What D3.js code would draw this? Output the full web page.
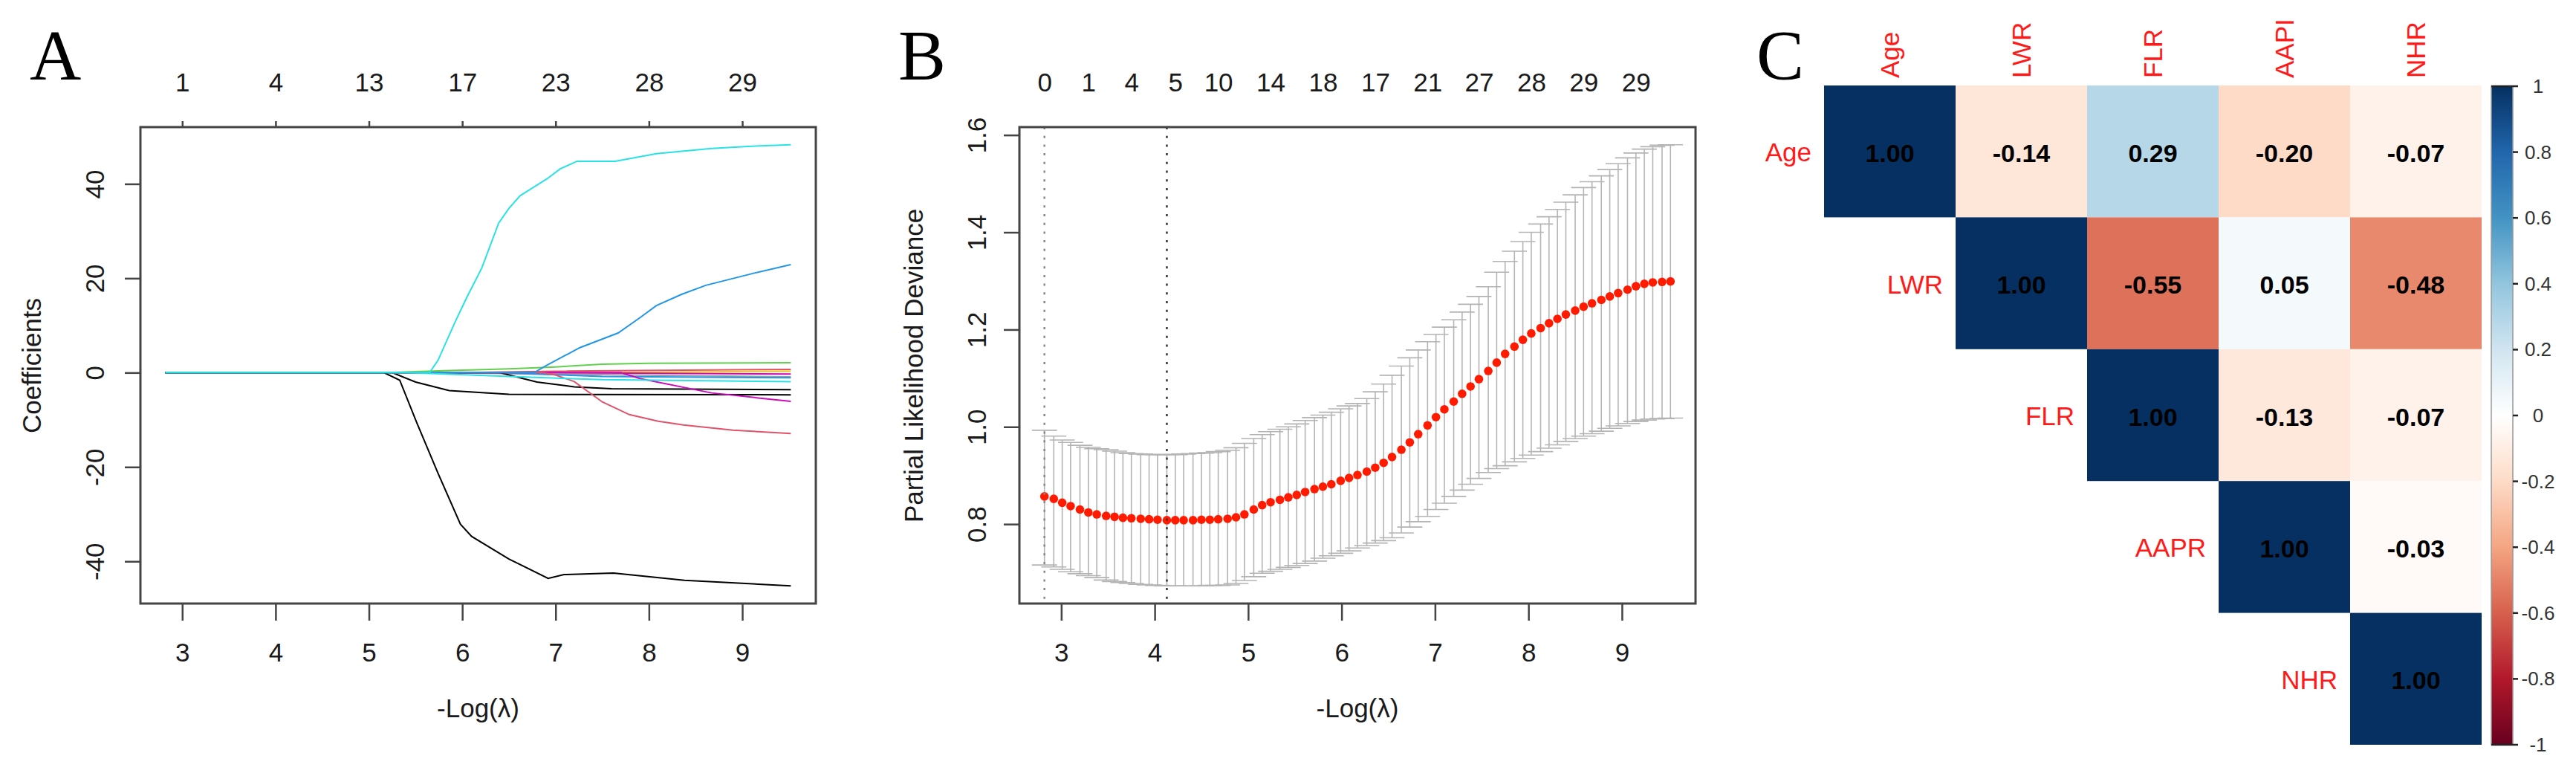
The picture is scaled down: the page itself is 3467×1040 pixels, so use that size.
<!DOCTYPE html>
<html lang="en">
<head>
  <meta charset="UTF-8">
  <title>LASSO Cox and correlation</title>
  <script src="https://d3js.org/d3.v7.min.js"></script>
  <style>
    body, html { margin: 0; padding: 0; background: #fff; }
    svg { display: block; }
    text { font-family: "Liberation Sans", Arial, sans-serif; }
  </style>
</head>
<body>
  <svg id="fig" width="3467" height="1040"></svg>

  <script>
    // ---- panel A: coefficient paths (x = -log(lambda), y = coefficient) ----
    const coefTicks = [3, 4, 5, 6, 7, 8, 9];
    const coefTopLabels = ["1", "4", "13", "17", "23", "28", "29"];
    const coefYTicks = [-40, -20, 0, 20, 40];

    const pathGray     = [[2.82, 0], [5.5, 0], [7.0, -0.3], [9.52, -0.9]];
    const pathYellow   = [[2.82, 0], [7.5, 0], [9.52, 0.3]];
    const pathMagenta2 = [[2.82, 0], [7.0, 0], [9.52, -0.3]];
    const pathRed2     = [[2.82, 0], [6.0, 0], [7.0, 0.3], [9.52, 0.7]];
    const pathBlue2    = [[2.82, 0], [6.3, 0], [7.5, -0.8], [9.52, -1.1]];
    const pathGreen    = [[2.82, 0], [5.2, 0], [5.8, 0.4], [6.5, 0.8], [7.0, 1.2], [7.5, 1.8], [8.0, 2.0], [9.52, 2.1]];
    const pathBlack3   = [[2.82, 0], [6.4, 0], [6.8, -2.0], [7.2, -3.0], [7.6, -3.4], [9.52, -3.6]];
    const pathBlack2   = [[2.82, 0], [5.25, 0], [5.5, -2.0], [5.86, -3.8], [6.5, -4.6], [9.52, -4.7]];
    const pathMagenta  = [[2.82, 0], [7.7, 0], [7.91, -1.3], [8.67, -4.3], [9.52, -6.1]];
    const pathPink     = [[2.82, 0], [6.85, 0], [7.0, -0.5], [7.2, -1.9], [7.5, -6.2], [7.79, -8.9], [8.1, -10.3], [8.37, -11.1], [8.9, -12.2], [9.52, -12.9]];
    const pathBlue     = [[2.82, 0], [6.77, 0], [6.91, 1.6], [7.26, 5.3], [7.67, 8.4], [7.9, 11.6], [8.08, 14.2], [8.35, 16.6], [8.61, 18.5], [9.13, 21.1], [9.52, 22.9]];
    const pathBlack1   = [[2.82, 0], [5.16, 0], [5.33, -1.6], [5.51, -10.5], [5.74, -21.3], [5.98, -32.1], [6.10, -34.7], [6.5, -39.5], [6.92, -43.6], [7.09, -42.8], [7.62, -42.5], [8.38, -44.0], [9.52, -45.2]];
    const pathCyan2    = [[2.82, 0], [5.4, 0], [6.5, -0.8], [7.5, -1.5], [9.52, -1.9]];
    const pathCyan     = [[2.82, 0], [5.65, 0], [5.74, 2.6], [5.92, 10.6], [6.05, 16.0], [6.21, 22.2], [6.39, 31.7], [6.5, 34.8], [6.62, 37.5], [6.91, 41.1], [7.05, 43.2], [7.23, 44.8], [7.64, 44.8], [8.08, 46.4], [8.67, 47.5], [9.1, 48.0], [9.52, 48.3]];

    const coefPaths = [pathGray, pathYellow, pathMagenta2, pathRed2, pathBlue2, pathGreen, pathBlack3,
                       pathBlack2, pathMagenta, pathPink, pathBlue, pathBlack1, pathCyan2, pathCyan];
    const coefColors = ["#9E9E9E", "#F5C710", "#CD0BBC", "#DF536B", "#2297E6", "#61D04F", "#000000",
                        "#000000", "#CD0BBC", "#DF536B", "#2297E6", "#000000", "#28E2E5", "#28E2E5"];

    // ---- panel B: cross-validation curve ----
    const cvLogLambda = [2.82, 2.92, 3.01, 3.10, 3.20, 3.29, 3.38, 3.48, 3.57, 3.66,
                         3.75, 3.85, 3.94, 4.03, 4.13, 4.22, 4.31, 4.41, 4.50, 4.59,
                         4.68, 4.78, 4.87, 4.96, 5.06, 5.15, 5.24, 5.34, 5.43, 5.52,
                         5.61, 5.71, 5.80, 5.89, 5.99, 6.08, 6.17, 6.27, 6.36, 6.45,
                         6.54, 6.64, 6.73, 6.82, 6.92, 7.01, 7.10, 7.20, 7.29, 7.38,
                         7.47, 7.57, 7.66, 7.75, 7.85, 7.94, 8.03, 8.13, 8.22, 8.31,
                         8.40, 8.50, 8.59, 8.68, 8.78, 8.87, 8.96, 9.06, 9.15, 9.24,
                         9.33, 9.43, 9.52];
    const cvMean = [0.857, 0.852, 0.844, 0.837, 0.830, 0.824, 0.820, 0.817, 0.815, 0.813,
                    0.812, 0.811, 0.810, 0.809, 0.808, 0.808, 0.808, 0.808, 0.809, 0.809,
                    0.810, 0.811, 0.814, 0.820, 0.830, 0.839, 0.845, 0.850, 0.855, 0.860,
                    0.866, 0.872, 0.877, 0.882, 0.889, 0.895, 0.901, 0.908, 0.916, 0.926,
                    0.938, 0.953, 0.968, 0.985, 1.003, 1.020, 1.036, 1.052, 1.068, 1.083,
                    1.098, 1.115, 1.132, 1.150, 1.165, 1.179, 1.192, 1.203, 1.213, 1.222,
                    1.231, 1.239, 1.247, 1.254, 1.261, 1.268, 1.275, 1.282, 1.289, 1.294,
                    1.297, 1.298, 1.299];
    const cvUpper = [0.993, 0.981, 0.973, 0.968, 0.962, 0.958, 0.955, 0.953, 0.950, 0.947,
                     0.945, 0.944, 0.943, 0.943, 0.943, 0.943, 0.944, 0.945, 0.946, 0.947,
                     0.949, 0.952, 0.957, 0.966, 0.976, 0.984, 0.990, 0.995, 1.000, 1.006,
                     1.013, 1.019, 1.024, 1.030, 1.037, 1.043, 1.048, 1.058, 1.072, 1.088,
                     1.106, 1.125, 1.142, 1.158, 1.175, 1.190, 1.205, 1.220, 1.236, 1.252,
                     1.268, 1.288, 1.318, 1.340, 1.361, 1.381, 1.400, 1.417, 1.432, 1.447,
                     1.462, 1.477, 1.492, 1.504, 1.516, 1.529, 1.541, 1.553, 1.563, 1.571,
                     1.576, 1.579, 1.580];
    const cvLower = [0.716, 0.712, 0.707, 0.702, 0.698, 0.694, 0.690, 0.685, 0.682, 0.680,
                     0.678, 0.676, 0.675, 0.674, 0.673, 0.673, 0.673, 0.673, 0.673, 0.674,
                     0.674, 0.675, 0.678, 0.684, 0.692, 0.699, 0.703, 0.707, 0.711, 0.715,
                     0.719, 0.724, 0.730, 0.735, 0.740, 0.745, 0.751, 0.756, 0.761, 0.766,
                     0.772, 0.782, 0.794, 0.805, 0.816, 0.830, 0.843, 0.857, 0.870, 0.882,
                     0.894, 0.906, 0.914, 0.920, 0.928, 0.935, 0.942, 0.949, 0.956, 0.963,
                     0.970, 0.976, 0.981, 0.986, 0.991, 0.997, 1.002, 1.007, 1.011, 1.014,
                     1.016, 1.017, 1.018];
    const cvTopAt = [2.82, 3.29, 3.75, 4.22, 4.68, 5.24, 5.80, 6.36, 6.92, 7.47, 8.03, 8.59, 9.15];
    const cvTopLabels = ["0", "1", "4", "5", "10", "14", "18", "17", "21", "27", "28", "29", "29"];
    const cvXTicks = [3, 4, 5, 6, 7, 8, 9];
    const cvYTicks = [0.8, 1.0, 1.2, 1.4, 1.6];
    const cvLambda1se = 2.82;
    const cvLambdaMin = 4.13;

    // ---- panel C: correlation matrix (upper triangle) ----
    const corrRows = ["Age", "LWR", "FLR", "AAPR", "NHR"];
    const corrCols = ["Age", "LWR", "FLR", "AAPI", "NHR"];
    const corrMatrix = [
      [1.00, -0.14,  0.29, -0.20, -0.07],
      [null,  1.00, -0.55,  0.05, -0.48],
      [null,  null,  1.00, -0.13, -0.07],
      [null,  null,  null,  1.00, -0.03],
      [null,  null,  null,  null,  1.00]
    ];
    const legendTicks = [1, 0.8, 0.6, 0.4, 0.2, 0, -0.2, -0.4, -0.6, -0.8, -1];
    const rdbuColors = ["#67001F", "#B2182B", "#D6604D", "#F4A582", "#FDDBC7", "#FFFFFF",
                        "#D1E5F0", "#92C5DE", "#4393C3", "#2166AC", "#053061"];

    const svg = d3.select("#fig");
    svg.append("rect").attr("width", 3467).attr("height", 1040).attr("fill", "#fff");

    const AX = "#444";
    const FONT = "Liberation Sans, Arial, sans-serif";

    function padded(ext, f) {
      const p = (ext[1] - ext[0]) * f;
      return [ext[0] - p, ext[1] + p];
    }

    function styleAxis(g) {
      g.attr("font-size", 35).attr("font-family", FONT);
      g.select(".domain").remove();
      g.selectAll(".tick line").attr("stroke", AX).attr("stroke-width", 2.5);
      g.selectAll(".tick text").attr("fill", "#1a1a1a");
    }

    function rotateLeftLabels(g, off) {
      g.selectAll(".tick text")
        .attr("x", null).attr("dy", null)
        .attr("text-anchor", "middle")
        .attr("transform", `translate(${off},0) rotate(-90)`);
    }

    function frame(b) {
      svg.append("rect")
        .attr("x", b.l).attr("y", b.t)
        .attr("width", b.r - b.l).attr("height", b.b - b.t)
        .attr("fill", "none").attr("stroke", AX).attr("stroke-width", 3);
    }

    function panelLetter(txt, x) {
      svg.append("text").attr("x", x).attr("y", 107)
        .style("font-family", "Liberation Serif, Times New Roman, serif")
        .style("font-size", "96px").attr("fill", "#000").text(txt);
    }

    function axisTitle(txt, x, y, rot) {
      svg.append("text")
        .attr("transform", rot ? `translate(${x},${y}) rotate(-90)` : `translate(${x},${y})`)
        .attr("text-anchor", "middle")
        .style("font-size", "35px").attr("fill", "#1a1a1a").text(txt);
    }

    // R prints a plain hyphen for negatives
    const plain = d => String(d);
    const fixed1 = d => d.toFixed(1);

    // ================= Panel A =================
    const boxA = { l: 189, r: 1098, t: 171, b: 812 };
    const allCoef = coefPaths.flat();
    const xA = d3.scaleLinear().domain(padded(d3.extent(allCoef, d => d[0]), 0.04)).range([boxA.l, boxA.r]);
    const yA = d3.scaleLinear().domain(padded(d3.extent(allCoef, d => d[1]), 0.04)).range([boxA.b, boxA.t]);

    const lineA = d3.line().x(d => xA(d[0])).y(d => yA(d[1]));
    svg.append("g").selectAll("path")
      .data(coefPaths)
      .enter().append("path")
      .attr("d", lineA)
      .attr("fill", "none")
      .attr("stroke", (d, i) => coefColors[i])
      .attr("stroke-width", 2);

    frame(boxA);

    svg.append("g").attr("transform", `translate(0,${boxA.b})`)
      .call(d3.axisBottom(xA).tickValues(coefTicks).tickSize(23).tickPadding(30).tickFormat(plain))
      .call(styleAxis);

    svg.append("g").attr("transform", `translate(0,${boxA.t})`)
      .call(d3.axisTop(xA).tickValues(coefTicks).tickSize(8).tickPadding(40).tickFormat((d, i) => coefTopLabels[i]))
      .call(styleAxis);

    svg.append("g").attr("transform", `translate(${boxA.l},0)`)
      .call(d3.axisLeft(yA).tickValues(coefYTicks).tickSize(21).tickFormat(plain))
      .call(styleAxis)
      .call(g => rotateLeftLabels(g, -49));

    axisTitle("Coefficients", 55, 492, true);
    axisTitle("-Log(\u03bb)", (boxA.l + boxA.r) / 2, 965, false);
    panelLetter("A", 40);

    // ================= Panel B =================
    const boxB = { l: 1372, r: 2282, t: 171, b: 812 };
    const xB = d3.scaleLinear().domain(padded(d3.extent(cvLogLambda), 0.04)).range([boxB.l, boxB.r]);
    const yB = d3.scaleLinear().domain(padded(d3.extent(cvLower.concat(cvUpper)), 0.04)).range([boxB.b, boxB.t]);

    const cvData = cvLogLambda.map((x, i) => ({ x, m: cvMean[i], hi: cvUpper[i], lo: cvLower[i] }));
    const barW = (d3.max(cvLogLambda) - d3.min(cvLogLambda)) * 0.02;

    const eb = svg.append("g").attr("stroke", "#b3b3b3").attr("stroke-width", 1.6);
    eb.selectAll("line.v").data(cvData).enter().append("line")
      .attr("x1", d => xB(d.x)).attr("x2", d => xB(d.x))
      .attr("y1", d => yB(d.hi)).attr("y2", d => yB(d.lo));
    eb.selectAll("line.u").data(cvData).enter().append("line")
      .attr("x1", d => xB(d.x - barW)).attr("x2", d => xB(d.x + barW))
      .attr("y1", d => yB(d.hi)).attr("y2", d => yB(d.hi));
    eb.selectAll("line.l").data(cvData).enter().append("line")
      .attr("x1", d => xB(d.x - barW)).attr("x2", d => xB(d.x + barW))
      .attr("y1", d => yB(d.lo)).attr("y2", d => yB(d.lo));

    svg.append("g").selectAll("circle").data(cvData).enter().append("circle")
      .attr("cx", d => xB(d.x)).attr("cy", d => yB(d.m)).attr("r", 5.8)
      .attr("fill", "#ff1a00");

    [[cvLambda1se, "#888"], [cvLambdaMin, "#333"]].forEach(([v, c]) => {
      svg.append("line")
        .attr("x1", xB(v)).attr("x2", xB(v))
        .attr("y1", boxB.t).attr("y2", boxB.b)
        .attr("stroke", c).attr("stroke-width", 2.5)
        .attr("stroke-dasharray", "3,8.7");
    });

    frame(boxB);

    svg.append("g").attr("transform", `translate(0,${boxB.b})`)
      .call(d3.axisBottom(xB).tickValues(cvXTicks).tickSize(23).tickPadding(30).tickFormat(plain))
      .call(styleAxis);

    svg.append("g").attr("transform", `translate(0,${boxB.t})`)
      .call(d3.axisTop(xB).tickValues(cvTopAt).tickSize(0).tickPadding(48).tickFormat((d, i) => cvTopLabels[i]))
      .call(styleAxis);

    svg.append("g").attr("transform", `translate(${boxB.l},0)`)
      .call(d3.axisLeft(yB).tickValues(cvYTicks).tickSize(21).tickFormat(fixed1))
      .call(styleAxis)
      .call(g => rotateLeftLabels(g, -45));

    axisTitle("Partial Likelihood Deviance", 1242, 492, true);
    axisTitle("-Log(\u03bb)", (boxB.l + boxB.r) / 2, 965, false);
    panelLetter("B", 1209);

    // ================= Panel C =================
    const xC = d3.scaleBand().domain(d3.range(corrCols.length)).range([2455, 3340]);
    const yC = d3.scaleBand().domain(d3.range(corrRows.length)).range([115, 1002]);
    const corrColor = d3.scaleLinear()
      .domain(d3.range(rdbuColors.length).map(i => -1 + i * 0.2))
      .range(rdbuColors)
      .interpolate(d3.interpolateRgb);

    const cells = [];
    corrMatrix.forEach((row, i) => row.forEach((v, j) => { if (v !== null) cells.push({ i, j, v }); }));

    const gc = svg.append("g");
    gc.selectAll("rect").data(cells).enter().append("rect")
      .attr("x", d => xC(d.j)).attr("y", d => yC(d.i))
      .attr("width", xC.bandwidth()).attr("height", yC.bandwidth())
      .attr("fill", d => corrColor(d.v));
    gc.selectAll("text").data(cells).enter().append("text")
      .attr("x", d => xC(d.j) + xC.bandwidth() / 2)
      .attr("y", d => yC(d.i) + yC.bandwidth() / 2 + 2)
      .attr("text-anchor", "middle").attr("dominant-baseline", "central")
      .style("font-size", "34px").style("font-weight", "bold")
      .attr("fill", "#000")
      .text(d => d.v.toFixed(2));

    svg.append("g").selectAll("text").data(corrRows).enter().append("text")
      .attr("x", (d, i) => xC(i) - 17)
      .attr("y", (d, i) => yC(i) + yC.bandwidth() / 2 + 1)
      .attr("text-anchor", "end").attr("dominant-baseline", "central")
      .style("font-size", "35px").attr("fill", "#ff1a1a")
      .text(d => d);

    svg.append("g").selectAll("text").data(corrCols).enter().append("text")
      .attr("transform", (d, i) => `translate(${xC(i) + xC.bandwidth() / 2},105) rotate(-90)`)
      .attr("dy", "0.35em")
      .style("font-size", "35px").attr("fill", "#ff1a1a")
      .text(d => d);

    // colour legend
    const legY = d3.scaleLinear().domain([-1, 1]).range([1002, 116]);
    const legX0 = 3353, legX1 = 3382;
    const grad = svg.append("defs").append("linearGradient")
      .attr("id", "rdbu").attr("x1", 0).attr("x2", 0).attr("y1", 0).attr("y2", 1);
    d3.range(0, 41).forEach(k => {
      const o = k / 40;
      grad.append("stop").attr("offset", o).attr("stop-color", corrColor(1 - 2 * o));
    });
    svg.append("rect")
      .attr("x", legX0).attr("y", legY(1))
      .attr("width", legX1 - legX0).attr("height", legY(-1) - legY(1))
      .attr("fill", "url(#rdbu)").attr("stroke", "#999").attr("stroke-width", 1.5);

    const gl = svg.append("g");
    gl.selectAll("line").data(legendTicks).enter().append("line")
      .attr("x1", d => (Math.abs(d) === 1 ? legX0 : legX1)).attr("x2", legX1 + 7)
      .attr("y1", d => legY(d)).attr("y2", d => legY(d))
      .attr("stroke", "#222").attr("stroke-width", 2.5);
    gl.selectAll("text").data(legendTicks).enter().append("text")
      .attr("x", 3416).attr("y", d => legY(d))
      .attr("text-anchor", "middle").attr("dominant-baseline", "central")
      .style("font-size", "26px").attr("fill", "#333")
      .text(d => String(d));

    panelLetter("C", 2364);
  </script>
</body>
</html>
